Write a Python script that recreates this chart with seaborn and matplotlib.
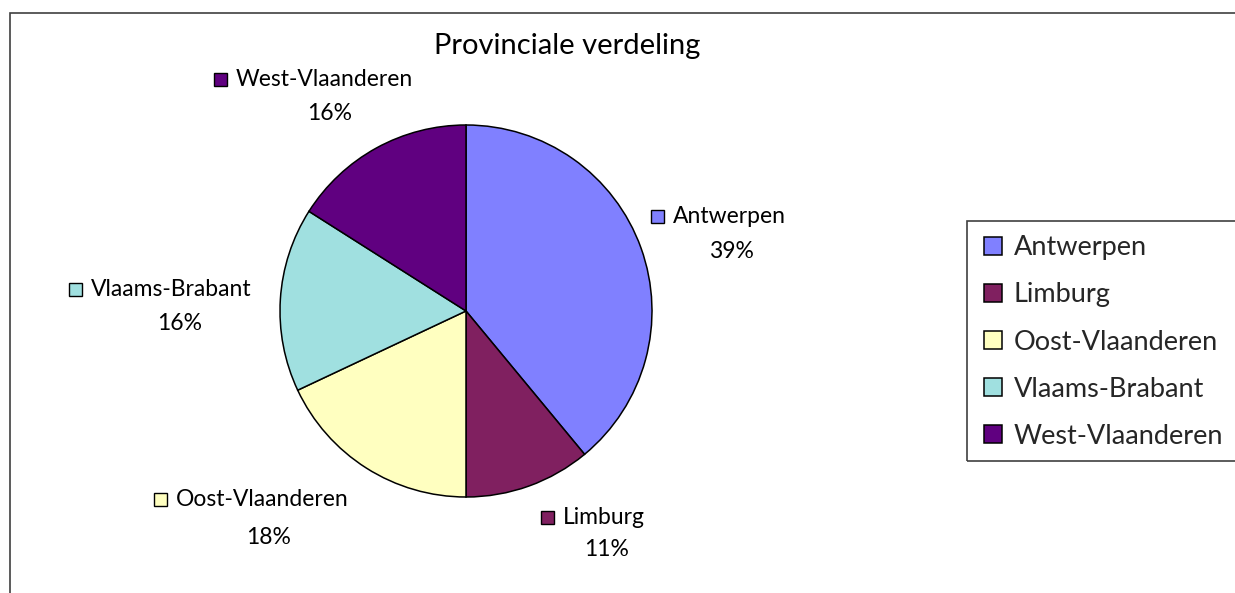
import matplotlib
matplotlib.use("Agg")
import matplotlib.pyplot as plt
from matplotlib.patches import Rectangle
import seaborn as sns

categories = ["Antwerpen", "Limburg", "Oost-Vlaanderen", "Vlaams-Brabant", "West-Vlaanderen"]
values = [39, 11, 18, 16, 16]
colors = ["#8080FF", "#802060", "#FFFFC0", "#A0E0E0", "#600080"]
title = "Provinciale verdeling"

sns.set_theme(style="white")
plt.rcParams['font.family'] = ['Lato', 'DejaVu Sans']
palette = sns.color_palette(colors)

W, H = 1235, 593
fig = plt.figure(figsize=(W / 100, H / 100), dpi=100)
fig.patch.set_facecolor("white")

def fx(x):
    return x / W

def fy(y):
    return 1 - y / H

# outer chart frame
fig.add_artist(Rectangle((fx(10), fy(600)), fx(1240) - fx(10), fy(13) - fy(600),
                         transform=fig.transFigure, fill=False, edgecolor="#404040",
                         linewidth=1.2, clip_on=False))

# pie axes
cx, cy, r = 466, 311, 186
ax = fig.add_axes([fx(cx - r), fy(cy + r), 2 * r / W, 2 * r / H])
wedges, _ = ax.pie(values, colors=palette, startangle=90, counterclock=False,
                   radius=1, wedgeprops=dict(edgecolor="black", linewidth=1.1))
ax.set_xlim(-1, 1)
ax.set_ylim(-1, 1)
ax.set_axis_off()

# title
fig.text(fx(567), fy(46), title, ha="center", va="center", fontsize=21, color="black")

# data labels: (square center x, name y, pct x, pct y)
label_pos = {
    "Antwerpen": (657, 216, 731, 251),
    "Limburg": (547, 517, 607, 550),
    "Oost-Vlaanderen": (160, 499, 269, 537),
    "Vlaams-Brabant": (75, 289, 180, 324),
    "West-Vlaanderen": (220, 79, 330, 114),
}
sq = 13
for name, val, col in zip(categories, values, palette):
    sx, ny, px, py = label_pos[name]
    fig.add_artist(Rectangle((fx(sx - sq / 2), fy(ny + sq / 2)), sq / W, sq / H,
                             transform=fig.transFigure, facecolor=col,
                             edgecolor="black", linewidth=1.0))
    fig.text(fx(sx + 16), fy(ny), name, ha="left", va="center", fontsize=16.5, color="black")
    fig.text(fx(px), fy(py), f"{val}%", ha="center", va="center", fontsize=16.5, color="black")

# legend box
fig.add_artist(Rectangle((fx(967), fy(461)), fx(1245) - fx(967), fy(221) - fy(461),
                         transform=fig.transFigure, fill=False, edgecolor="#404040",
                         linewidth=1.2, clip_on=False))
leg = fig.legend(wedges, categories, loc="upper left",
                 bbox_to_anchor=(fx(976), fy(227)), frameon=False,
                 fontsize=19.5, handlelength=0.65, handleheight=0.65,
                 handletextpad=0.45, labelspacing=0.82, borderaxespad=0, borderpad=0.3)

fig.savefig("out.png", dpi=100)
